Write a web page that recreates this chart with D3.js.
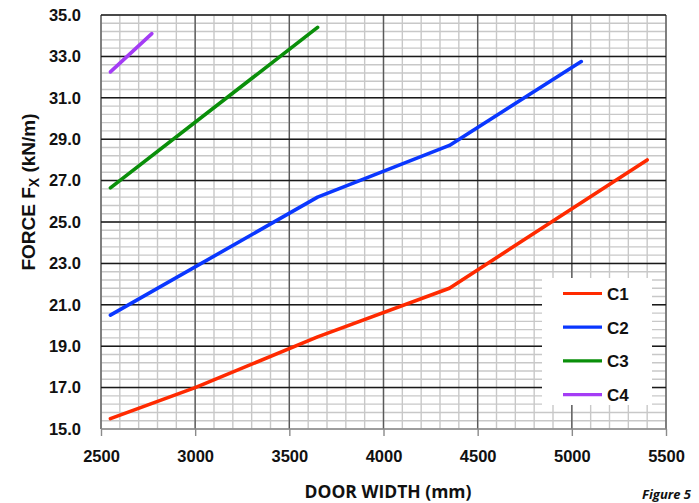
<!DOCTYPE html>
<html>
<head>
<meta charset="utf-8">
<script src="https://cdn.jsdelivr.net/npm/d3@7"></script>
<style>
  body { margin: 0; background: #fff; }
  svg { display: block; }
  .tick text { font-family: "Liberation Sans", Arial, sans-serif; font-weight: bold; fill: #111; }
</style>
</head>
<body>
<script>
var WIDTH = 699, HEIGHT = 503;
var MARGIN = {top: 15, right: 33, bottom: 74, left: 101};
var INNER_WIDTH = WIDTH - MARGIN.left - MARGIN.right;
var INNER_HEIGHT = HEIGHT - MARGIN.top - MARGIN.bottom;

// data
var seriesNames = ['C1', 'C2', 'C3', 'C4'];
var seriesColors = ['#ff2a00', '#0a37ff', '#0a8f0a', '#a43cf5'];
var widthC1 = [2550, 3000, 3650, 4350, 5400];
var forceC1 = [15.5, 17.0, 19.45, 21.8, 28.0];
var widthC2 = [2550, 3650, 4350, 5050];
var forceC2 = [20.5, 26.2, 28.7, 32.75];
var widthC3 = [2550, 3650];
var forceC3 = [26.65, 34.4];
var widthC4 = [2550, 2770];
var forceC4 = [32.25, 34.1];
var xTicks = [2500, 3000, 3500, 4000, 4500, 5000, 5500];
var yTicks = [15, 17, 19, 21, 23, 25, 27, 29, 31, 33, 35];

var seriesWidths = [widthC1, widthC2, widthC3, widthC4];
var seriesForces = [forceC1, forceC2, forceC3, forceC4];

var _xScale = d3.scaleLinear().domain([2500, 5500]).range([0, INNER_WIDTH]);
var _yScale = d3.scaleLinear().domain([15, 35]).range([INNER_HEIGHT, 0]);

var _svg = d3.select('body').append('svg')
    .attr('width', WIDTH)
    .attr('height', HEIGHT);

var g = _svg.append('g')
    .attr('transform', 'translate(' + MARGIN.left + ',' + MARGIN.top + ')');

// minor grid
var minorX = d3.range(2500, 5501, 100);
var minorY = d3.range(0, 51).map(function(i){ return 15 + i * 0.4; });

g.selectAll('.minor-x').data(minorX).enter().append('line')
    .attr('x1', function(d){ return _xScale(d); })
    .attr('x2', function(d){ return _xScale(d); })
    .attr('y1', 0).attr('y2', INNER_HEIGHT)
    .attr('stroke', '#c8c8c8').attr('stroke-width', 1.4);

g.selectAll('.minor-y').data(minorY).enter().append('line')
    .attr('x1', 0).attr('x2', INNER_WIDTH)
    .attr('y1', function(d){ return _yScale(d); })
    .attr('y2', function(d){ return _yScale(d); })
    .attr('stroke', '#c8c8c8').attr('stroke-width', 1.4);

// major grid
g.selectAll('.major-x').data(xTicks).enter().append('line')
    .attr('x1', function(d){ return _xScale(d); })
    .attr('x2', function(d){ return _xScale(d); })
    .attr('y1', 0).attr('y2', INNER_HEIGHT)
    .attr('stroke', '#5a5a5a').attr('stroke-width', 1.4);

g.selectAll('.major-y').data(yTicks).enter().append('line')
    .attr('x1', 0).attr('x2', INNER_WIDTH)
    .attr('y1', function(d){ return _yScale(d); })
    .attr('y2', function(d){ return _yScale(d); })
    .attr('stroke', function(d){ return d === 15 ? '#8a8a8a' : '#1a1a1a'; })
    .attr('stroke-width', 1.5);

// axes
var xAxis = g.append('g')
    .attr('transform', 'translate(0,' + INNER_HEIGHT + ')')
    .call(d3.axisBottom(_xScale).tickValues(xTicks).tickSizeInner(7).tickSizeOuter(0)
        .tickPadding(14).tickFormat(d3.format('d')));
xAxis.select('.domain').remove();
xAxis.selectAll('.tick line').attr('stroke', '#8a8a8a').attr('stroke-width', 1.4);
xAxis.selectAll('.tick text').style('font-size', '16.5px');

var yAxis = g.append('g')
    .call(d3.axisLeft(_yScale).tickValues(yTicks).tickSize(0).tickPadding(20).tickFormat(d3.format('.1f')));
yAxis.select('.domain').remove();
yAxis.selectAll('.tick text').style('font-size', '16.5px');

// lines
var line = d3.line()
    .x(function(d){ return _xScale(d[0]); })
    .y(function(d){ return _yScale(d[1]); });

seriesNames.forEach(function(name, i){
    var pts = seriesWidths[i].map(function(w, j){ return [w, seriesForces[i][j]]; });
    g.append('path')
        .attr('d', line(pts))
        .attr('fill', 'none')
        .attr('stroke', seriesColors[i])
        .attr('stroke-width', 3.6)
        .attr('stroke-linecap', 'round')
        .attr('stroke-linejoin', 'round');
});

// legend
var legend = _svg.append('g').attr('transform', 'translate(542,278)');
legend.append('rect')
    .attr('width', 110).attr('height', 127)
    .attr('fill', '#fff');
seriesNames.forEach(function(name, i){
    var y = 15.5 + i * 33.7;
    legend.append('line')
        .attr('x1', 21).attr('x2', 60)
        .attr('y1', y).attr('y2', y)
        .attr('stroke', seriesColors[i]).attr('stroke-width', 3.2);
    legend.append('text')
        .attr('x', 65).attr('y', y + 6.5)
        .style('font-family', '"Liberation Sans", Arial, sans-serif')
        .style('font-weight', 'bold')
        .style('font-size', '17px')
        .attr('fill', '#111')
        .text(name);
});

// titles
var yTitle = _svg.append('text')
    .attr('transform', 'translate(35,192) rotate(-90)')
    .attr('text-anchor', 'middle')
    .style('font-family', '"Liberation Sans", Arial, sans-serif')
    .style('font-weight', 'bold')
    .style('font-size', '19px')
    .attr('fill', '#111');
yTitle.append('tspan').text('FORCE F');
yTitle.append('tspan').attr('dy', 4).style('font-size', '14px').text('X');
yTitle.append('tspan').attr('dy', -4).text(' (kN/m)');

_svg.append('text')
    .attr('x', 388).attr('y', 498)
    .attr('text-anchor', 'middle')
    .style('font-family', '"Open Sans", sans-serif')
    .style('font-weight', 'bold')
    .style('font-size', '17.5px')
    .attr('fill', '#111')
    .text('DOOR WIDTH (mm)');

_svg.append('text')
    .attr('x', 691).attr('y', 499)
    .attr('text-anchor', 'end')
    .style('font-family', '"Open Sans", sans-serif')
    .style('font-weight', 'bold')
    .style('font-style', 'italic')
    .style('font-size', '13px')
    .attr('fill', '#111')
    .text('Figure 5');
</script>
</body>
</html>
